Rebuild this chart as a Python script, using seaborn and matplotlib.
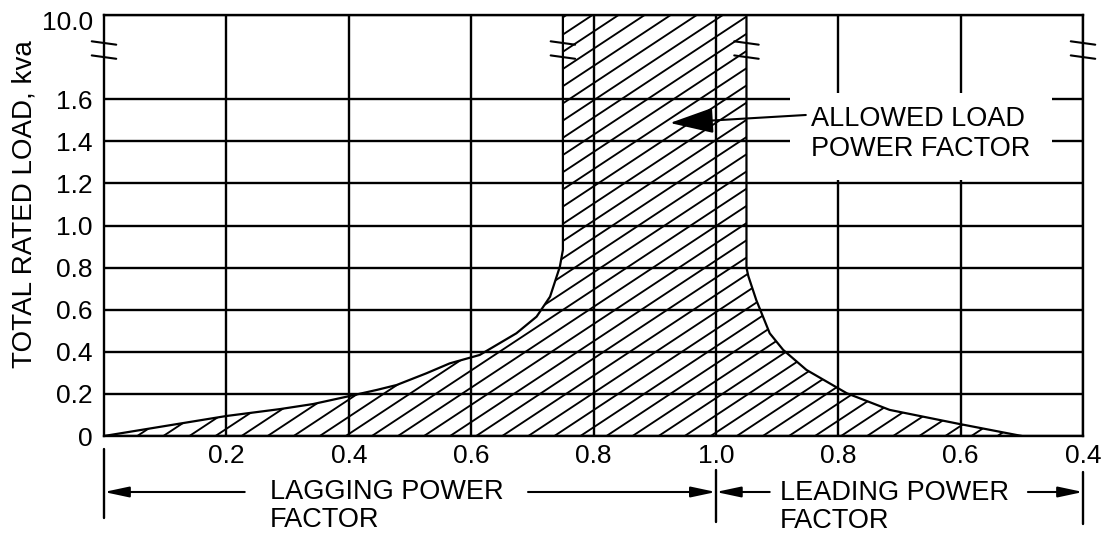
import numpy as np
import pandas as pd
import matplotlib
matplotlib.use("Agg")
import matplotlib.pyplot as plt
import matplotlib.transforms as mtransforms
from matplotlib.patches import Rectangle, Polygon
from matplotlib.collections import LineCollection
import seaborn as sns

# ---------------- data ----------------
# lagging-side boundary of the allowed region (power factor, kva)
lag_pf = [0.0, 0.20, 0.288, 0.342, 0.397, 0.446, 0.478, 0.527, 0.565, 0.614,
          0.674, 0.707, 0.729, 0.745, 0.750, 0.750]
lag_load = [0.0, 0.095, 0.128, 0.152, 0.187, 0.219, 0.242, 0.298, 0.345, 0.385,
            0.488, 0.567, 0.662, 0.804, 0.884, 10.0]
# leading-side boundary (power factor, kva)
lead_pf = [0.95, 0.95, 0.947, 0.934, 0.912, 0.890, 0.852, 0.786, 0.716, 0.607, 0.50]
lead_load = [10.0, 0.80, 0.76, 0.646, 0.488, 0.409, 0.314, 0.203, 0.124, 0.060, 0.0]

lag_ticks = [0.2, 0.4, 0.6, 0.8, 1.0]
lead_ticks = [0.8, 0.6, 0.4]
load_ticks = [0, 0.2, 0.4, 0.6, 0.8, 1.0, 1.2, 1.4, 1.6, 10.0]
load_labels = ["0", "0.2", "0.4", "0.6", "0.8", "1.0", "1.2", "1.4", "1.6", "10.0"]

ylabel = "TOTAL RATED LOAD, kva"
note = "ALLOWED LOAD\nPOWER FACTOR"
lag_text = "LAGGING POWER\nFACTOR"
lead_text = "LEADING POWER\nFACTOR"

# ---------------- style ----------------
sns.set_theme(style="white")
plt.rcParams["font.family"] = ["Liberation Sans", "DejaVu Sans"]
plt.rcParams.update({"text.color": "black", "axes.labelcolor": "black",
                     "xtick.color": "black", "ytick.color": "black",
                     "axes.edgecolor": "black"})

LW = 1.7
TXT = 19.5


def ypos(load):
    # broken axis: 0..1.6 linear, then jump to 10.0
    return np.interp(load, [0, 1.6, 10.0], [0, 1.6, 2.0])


def xpos_lead(pf):
    return 2.0 - np.asarray(pf, dtype=float)


fig = plt.figure(figsize=(11.12, 5.35), dpi=100)
ax = fig.add_axes([104 / 1112, 1 - 436 / 535, 979 / 1112, 421 / 535])

lag_x = np.asarray(lag_pf, dtype=float)
lag_y = ypos(lag_load)
lead_x = xpos_lead(lead_pf)
lead_y = ypos(lead_load)

df_lag = pd.DataFrame({"x": lag_x, "y": lag_y})
df_lead = pd.DataFrame({"x": lead_x, "y": lead_y})
sns.lineplot(data=df_lag, x="x", y="y", sort=False, estimator=None,
             color="black", lw=1.6, ax=ax, zorder=4)
sns.lineplot(data=df_lead, x="x", y="y", sort=False, estimator=None,
             color="black", lw=1.6, ax=ax, zorder=4)

# allowed region with slanted hatching
verts = list(zip(lag_x, lag_y)) + list(zip(lead_x, lead_y))
region = Polygon(verts, closed=True, facecolor="none", edgecolor="none")
ax.add_patch(region)
slope = 1.919
step = 0.0426
x0 = 0.097
segs = [[(x0 + k * step, 0.0), (x0 + k * step + 2.0 / slope, 2.0)]
        for k in range(-60, 60)]
hatch = LineCollection(segs, colors="black", linewidths=1.35, zorder=3)
ax.add_collection(hatch)
hatch.set_clip_path(region)

# axes / grid
ax.set_xlim(0, 1.6)
ax.set_ylim(0, 2.0)
xt = list(lag_ticks) + list(xpos_lead(lead_ticks))
xl = [f"{v:.1f}" for v in lag_ticks] + [f"{v:.1f}" for v in lead_ticks]
ax.set_xticks(xt)
ax.set_xticklabels(xl)
ax.set_yticks(ypos(load_ticks))
ax.set_yticklabels(load_labels)
ax.tick_params(axis="both", length=0, labelsize=19)
ax.tick_params(axis="x", pad=6)
ax.tick_params(axis="y", pad=8)
ax.grid(True, color="black", lw=LW)
ax.set_axisbelow(True)
for s in ax.spines.values():
    s.set_color("black")
    s.set_linewidth(LW)
ax.set_xlabel("")
ax.set_ylabel("")

# shift the "10.0" label a little below the top edge
lab = ax.get_yticklabels()[-1]
lab.set_transform(lab.get_transform() +
                  mtransforms.ScaledTranslation(0, -6 / 100, fig.dpi_scale_trans))

# white gap around the note
ax.add_patch(Rectangle((1.121, 1.215), 1.549 - 1.121, 1.63 - 1.215,
                       facecolor="white", edgecolor="none", zorder=1))

# break marks
for bx in [0.0, lag_x[-1], lead_x[0], 1.6]:
    for by in [1.80, 1.867]:
        ax.plot([bx - 0.02, bx + 0.02], [by + 0.008, by - 0.008], color="black",
                lw=1.5, clip_on=False, zorder=5)

# note with arrow
ax.text(1.155, 1.435, note, fontsize=TXT, ha="left", va="center",
        linespacing=1.2, zorder=6)
ax.annotate("", xy=(0.925, 1.487), xytext=(1.147, 1.525),
            arrowprops=dict(arrowstyle="-|>,head_length=1.37,head_width=0.4",
                            color="black", lw=1.5, shrinkA=0, shrinkB=0,
                            mutation_scale=20), zorder=6)

# y label
fig.text(25 / 1112, 1 - 204 / 535, ylabel, rotation=90, fontsize=20,
         ha="center", va="center")

# dimension arrows below axis
tr = mtransforms.blended_transform_factory(ax.transData, ax.transAxes)
ay = -0.133
ap = dict(arrowstyle="-|>,head_length=0.75,head_width=0.16", color="black",
          lw=1.5, shrinkA=0, shrinkB=0, mutation_scale=20)
for tail, tip in [(0.230, 0.0), (0.693, 1.0), (1.088, 1.0), (1.51, 1.6)]:
    ax.annotate("", xy=(tip, ay), xytext=(tail, ay), xycoords=tr,
                textcoords=tr, arrowprops=ap, annotation_clip=False)
for vx, y1, y2 in [(0.0, -0.031, -0.195), (1.0, -0.081, -0.204), (1.6, -0.086, -0.209)]:
    ax.plot([vx, vx], [y1, y2], color="black", lw=1.7, transform=tr, clip_on=False)

ax.text(0.271, -0.166, lag_text, transform=tr, fontsize=TXT, ha="left",
        va="center", linespacing=1.12)
ax.text(1.105, -0.168, lead_text, transform=tr, fontsize=TXT, ha="left",
        va="center", linespacing=1.12)

fig.savefig("out.png", dpi=100)
